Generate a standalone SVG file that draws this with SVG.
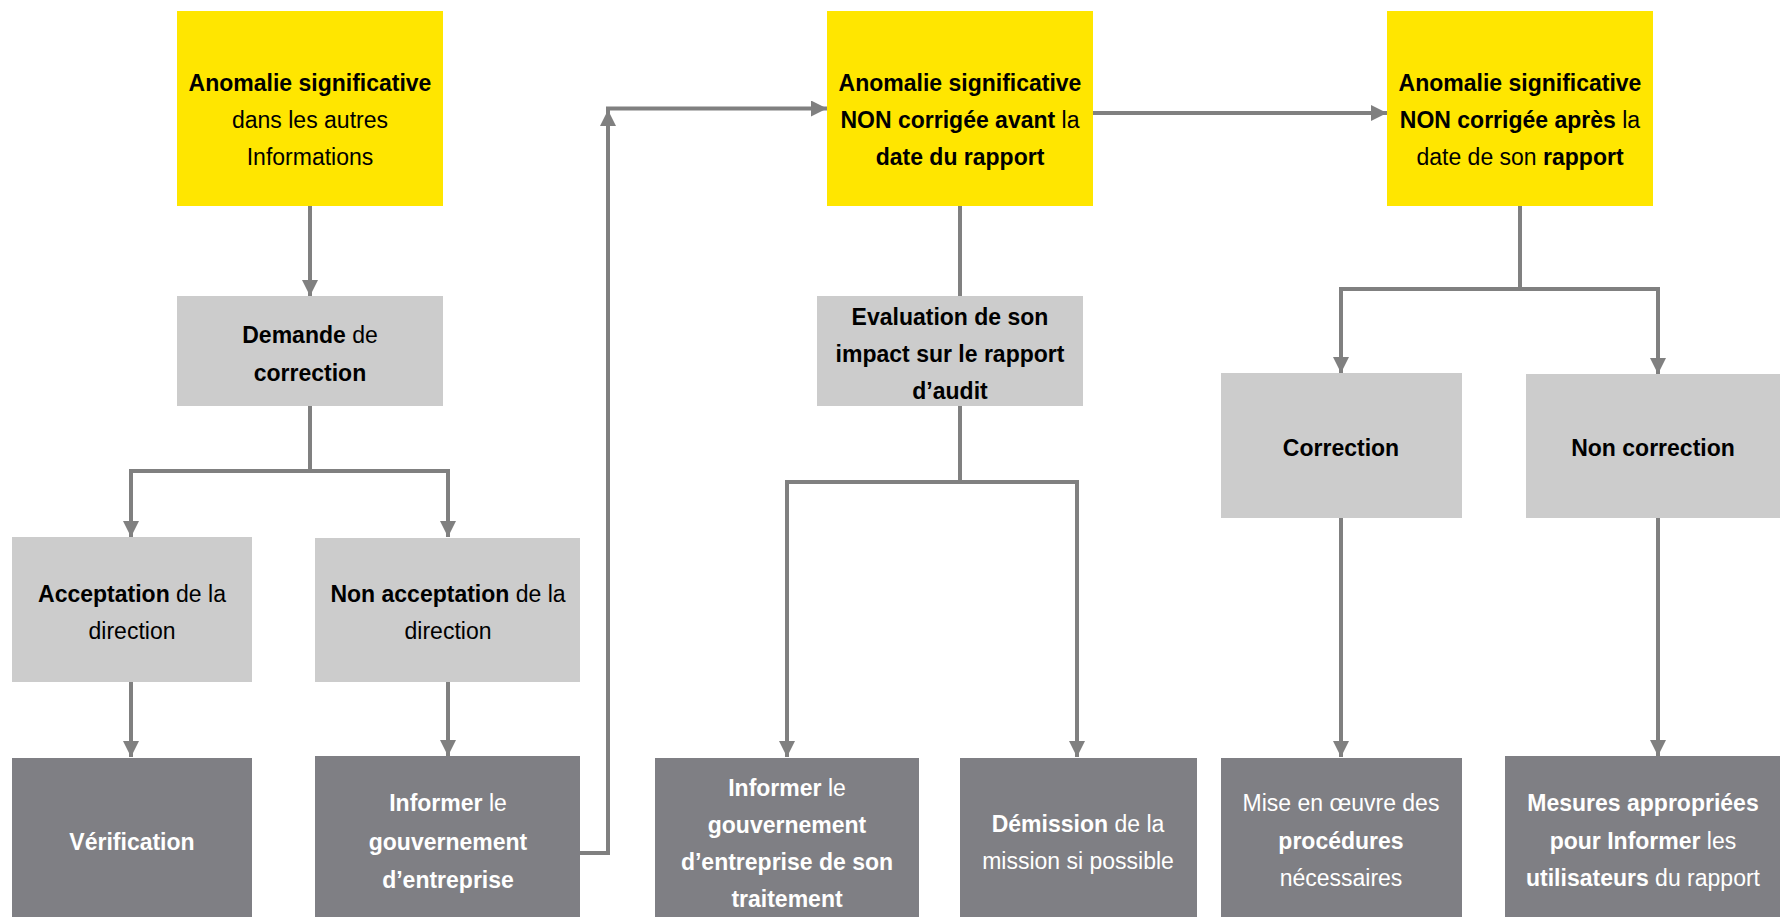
<svg xmlns="http://www.w3.org/2000/svg" width="1780" height="917" viewBox="0 0 1780 917">
  <defs>
    <marker id="arrow" markerUnits="userSpaceOnUse" markerWidth="16" markerHeight="16" viewBox="0 0 16 16" refX="16" refY="8" orient="auto">
      <path d="M0,0 L16,8 L0,16 Z" fill="#808080"/>
    </marker>
    <style>
      .yellow { fill: #FFE600; }
      .light { fill: #CCCCCC; }
      .dark { fill: #7F7F84; }
      text { font-family: "Liberation Sans", Arial, sans-serif; font-size: 23px; text-anchor: middle; }
      .on-light { fill: #000000; }
      .on-dark { fill: #FFFFFF; }
      .b { font-weight: bold; }
      .link { fill: none; stroke: #808080; stroke-width: 4; }
      .arrowed { marker-end: url(#arrow); }
    </style>
  </defs>
  <rect width="1780" height="917" fill="#FFFFFF"/>

  <!-- connectors -->
  <g id="connectors">
    <path class="link arrowed" d="M310,206 V296"/>
    <path class="link arrowed" d="M310,406 V471 H131 V537"/>
    <path class="link arrowed" d="M310,471 H448 V537"/>
    <path class="link arrowed" d="M131,682 V757"/>
    <path class="link arrowed" d="M448,682 V756"/>
    <path class="link arrowed" d="M580,853 H608 V110"/>
    <path class="link arrowed" d="M606,108.5 H827"/>
    <path class="link arrowed" d="M1093,113 H1387"/>
    <path class="link" d="M960,206 V296"/>
    <path class="link arrowed" d="M960,406 V482 H787 V757"/>
    <path class="link arrowed" d="M960,482 H1077 V757"/>
    <path class="link arrowed" d="M1520,206 V289 H1341 V373"/>
    <path class="link arrowed" d="M1520,289 H1658 V374"/>
    <path class="link arrowed" d="M1341,518 V757"/>
    <path class="link arrowed" d="M1658,518 V756"/>
  </g>

  <!-- top row -->
  <g id="anomalie-autres-infos">
    <rect class="yellow" x="177" y="11" width="266" height="195"/>
    <text class="on-light" x="310" y="91"><tspan class="b">Anomalie significative</tspan></text>
    <text class="on-light" x="310" y="128">dans les autres</text>
    <text class="on-light" x="310" y="165">Informations</text>
  </g>
  <g id="anomalie-avant">
    <rect class="yellow" x="827" y="11" width="266" height="195"/>
    <text class="on-light" x="960" y="91"><tspan class="b">Anomalie significative</tspan></text>
    <text class="on-light" x="960" y="128"><tspan class="b">NON corrigée avant</tspan> la</text>
    <text class="on-light" x="960" y="165"><tspan class="b">date du rapport</tspan></text>
  </g>
  <g id="anomalie-apres">
    <rect class="yellow" x="1387" y="11" width="266" height="195"/>
    <text class="on-light" x="1520" y="91"><tspan class="b">Anomalie significative</tspan></text>
    <text class="on-light" x="1520" y="128"><tspan class="b">NON corrigée après</tspan> la</text>
    <text class="on-light" x="1520" y="165">date de son <tspan class="b">rapport</tspan></text>
  </g>

  <!-- second row -->
  <g id="demande-correction">
    <rect class="light" x="177" y="296" width="266" height="110"/>
    <text class="on-light" x="310" y="343"><tspan class="b">Demande</tspan> de</text>
    <text class="on-light" x="310" y="381"><tspan class="b">correction</tspan></text>
  </g>
  <g id="evaluation-impact">
    <rect class="light" x="817" y="296" width="266" height="110"/>
    <text class="on-light b" x="950" y="325">Evaluation de son</text>
    <text class="on-light b" x="950" y="362">impact sur le rapport</text>
    <text class="on-light b" x="950" y="399">d’audit</text>
  </g>
  <g id="correction">
    <rect class="light" x="1221" y="373" width="241" height="145"/>
    <text class="on-light b" x="1341" y="456">Correction</text>
  </g>
  <g id="non-correction">
    <rect class="light" x="1526" y="374" width="254" height="144"/>
    <text class="on-light b" x="1653" y="456">Non correction</text>
  </g>

  <!-- third row -->
  <g id="acceptation">
    <rect class="light" x="12" y="537" width="240" height="145"/>
    <text class="on-light" x="132" y="602"><tspan class="b">Acceptation</tspan> de la</text>
    <text class="on-light" x="132" y="639">direction</text>
  </g>
  <g id="non-acceptation">
    <rect class="light" x="315" y="538" width="265" height="144"/>
    <text class="on-light" x="448" y="602"><tspan class="b">Non acceptation</tspan> de la</text>
    <text class="on-light" x="448" y="639">direction</text>
  </g>

  <!-- bottom row -->
  <g id="verification">
    <rect class="dark" x="12" y="758" width="240" height="159"/>
    <text class="on-dark b" x="132" y="850">Vérification</text>
  </g>
  <g id="informer-gouvernement">
    <rect class="dark" x="315" y="756" width="265" height="161"/>
    <text class="on-dark" x="448" y="811"><tspan class="b">Informer</tspan> le</text>
    <text class="on-dark b" x="448" y="850">gouvernement</text>
    <text class="on-dark b" x="448" y="888">d’entreprise</text>
  </g>
  <g id="informer-traitement">
    <rect class="dark" x="655" y="758" width="264" height="159"/>
    <text class="on-dark" x="787" y="796"><tspan class="b">Informer</tspan> le</text>
    <text class="on-dark b" x="787" y="833">gouvernement</text>
    <text class="on-dark b" x="787" y="870">d’entreprise de son</text>
    <text class="on-dark b" x="787" y="907">traitement</text>
  </g>
  <g id="demission">
    <rect class="dark" x="960" y="758" width="237" height="159"/>
    <text class="on-dark" x="1078" y="832"><tspan class="b">Démission</tspan> de la</text>
    <text class="on-dark" x="1078" y="869">mission si possible</text>
  </g>
  <g id="mise-en-oeuvre">
    <rect class="dark" x="1221" y="758" width="241" height="159"/>
    <text class="on-dark" x="1341" y="811">Mise en œuvre des</text>
    <text class="on-dark b" x="1341" y="849">procédures</text>
    <text class="on-dark" x="1341" y="886">nécessaires</text>
  </g>
  <g id="mesures-appropriees">
    <rect class="dark" x="1505" y="756" width="275" height="161"/>
    <text class="on-dark b" x="1643" y="811">Mesures appropriées</text>
    <text class="on-dark" x="1643" y="849"><tspan class="b">pour Informer</tspan> les</text>
    <text class="on-dark" x="1643" y="886"><tspan class="b">utilisateurs</tspan> du rapport</text>
  </g>
</svg>
